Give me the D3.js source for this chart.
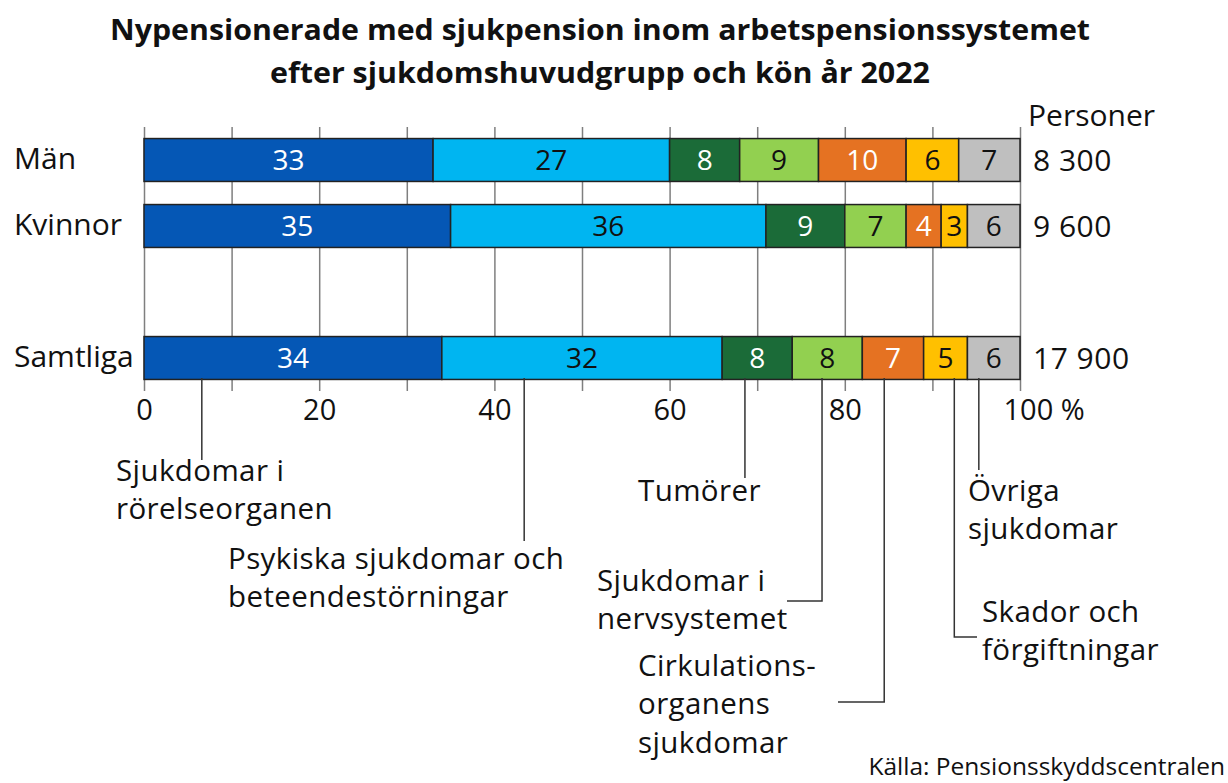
<!DOCTYPE html>
<html>
<head>
<meta charset="utf-8">
<script src="https://cdn.jsdelivr.net/npm/d3@7"></script>
<style>
  body { margin: 0; background: #fff; }
  text { font-family: "Open Sans", Lato, sans-serif; fill: #111; }
</style>
</head>
<body>
<svg id="chart" width="1228" height="783"></svg>
<script>
// data
var rows = ["Män", "Kvinnor", "Samtliga"];
var persons = ["8 300", "9 600", "17 900"];
var groups = ["Sjukdomar i rörelseorganen", "Psykiska sjukdomar och beteendestörningar", "Tumörer",
  "Sjukdomar i nervsystemet", "Cirkulationsorganens sjukdomar", "Skador och förgiftningar", "Övriga sjukdomar"];
var man = [33, 27, 8, 9, 10, 6, 7];
var kvinnor = [35, 36, 9, 7, 4, 3, 6];
var samtliga = [34, 32, 8, 8, 7, 5, 6];
var xTicks = [0, 20, 40, 60, 80, 100];
// where each leader line leaves the Samtliga bar (in %)
var leaderAt = [6.6, 43.4, 68.6, 77.4, 84.5, 92.5, 95.3];

var colors = ["#0557b5", "#00b5f1", "#1b6b38", "#92d050", "#e57222", "#ffc000", "#bfbfbf"];
var whiteText = [true, false, true, false, true, false, false];

var svg = d3.select("#chart");

var x = d3.scaleLinear().domain([0, 100]).range([144, 1020]);
var y = d3.scaleBand().domain(["Män", "Kvinnor", "gap", "Samtliga"])
  .range([127, 391]).paddingInner(0.35).paddingOuter(0.175);

// title
svg.append("text").attr("x", 600).attr("y", 40).attr("text-anchor", "middle")
  .style("font-weight", "bold").style("font-size", "29px")
  .attr("textLength", 980).attr("lengthAdjust", "spacingAndGlyphs")
  .text("Nypensionerade med sjukpension inom arbetspensionssystemet");
svg.append("text").attr("x", 600).attr("y", 83).attr("text-anchor", "middle")
  .style("font-weight", "bold").style("font-size", "29px")
  .attr("textLength", 660).attr("lengthAdjust", "spacingAndGlyphs")
  .text("efter sjukdomshuvudgrupp och kön år 2022");

// grid + axis
var axis = d3.axisBottom(x).tickValues(d3.range(0, 101, 10))
  .tickSize(-(391 - 127)).tickPadding(8)
  .tickFormat(function(d) { return xTicks.indexOf(d) >= 0 ? d : ""; });
var gAxis = svg.append("g").attr("transform", "translate(0,391)").call(axis);
gAxis.select(".domain").remove();
gAxis.selectAll("line").attr("stroke", "#7f7f7f").attr("stroke-width", 1.5);
gAxis.selectAll("text").style("font-size", "29px").attr("fill", "#111").attr("dy", "0.72em");
gAxis.selectAll(".tick").filter(function(d) { return d === 100; }).select("text")
  .attr("text-anchor", "start").attr("dx", "-17").text("100 %");

// bars
var data = [man, kvinnor, samtliga];
data.forEach(function(vals, r) {
  var stack = [];
  var acc = 0;
  vals.forEach(function(v, i) { stack.push({ i: i, v: v, x0: acc, x1: acc + v }); acc += v; });
  var g = svg.append("g");
  var by = y(rows[r]), bh = y.bandwidth();
  g.selectAll("rect").data(stack).enter().append("rect")
    .attr("x", function(d) { return x(d.x0); })
    .attr("width", function(d) { return x(d.x1) - x(d.x0); })
    .attr("y", by).attr("height", bh)
    .attr("fill", function(d) { return colors[d.i]; })
    .attr("stroke", "#222").attr("stroke-width", 1.5);
  g.selectAll("text").data(stack).enter().append("text")
    .attr("x", function(d) { return (x(d.x0) + x(d.x1)) / 2; })
    .attr("y", by + bh / 2).attr("dy", "0.36em")
    .attr("text-anchor", "middle").style("font-size", "28px")
    .style("fill", function(d) { return whiteText[d.i] ? "#fff" : "#111"; })
    .text(function(d) { return d.v; });

  svg.append("text").attr("x", 14).attr("y", by + bh / 2).attr("dy", "0.3em")
    .style("font-size", "30px").text(rows[r]);
  svg.append("text").attr("x", 1033).attr("y", by + bh / 2).attr("dy", "0.36em")
    .style("font-size", "30px").style("letter-spacing", "0.5px").text(persons[r]);
});

svg.append("text").attr("x", 1028).attr("y", 126).style("font-size", "30px").text("Personer");

// legend labels with leader lines (layout)
var legendLayout = [
  { lines: ["Sjukdomar i", "rörelseorganen"], tx: 116, ty: 481, end: 460, hook: null },
  { lines: ["Psykiska sjukdomar och", "beteendestörningar"], tx: 228, ty: 569, end: 541, hook: null },
  { lines: ["Tumörer"], tx: 638, ty: 501, end: 478, hook: null },
  { lines: ["Sjukdomar i", "nervsystemet"], tx: 597, ty: 591, end: 601, hook: 787 },
  { lines: ["Cirkulations-", "organens", "sjukdomar"], tx: 638, ty: 676, end: 702, hook: 838 },
  { lines: ["Skador och", "förgiftningar"], tx: 982, ty: 622, end: 637, hook: 977 },
  { lines: ["Övriga", "sjukdomar"], tx: 968, ty: 501, end: 470, hook: null }
];

legendLayout.forEach(function(L, i) {
  var lx = x(leaderAt[i]);
  var pts = [[lx, 378], [lx, L.end]];
  if (L.hook !== null) pts.push([L.hook, L.end]);
  svg.append("path").attr("d", d3.line()(pts))
    .attr("fill", "none").attr("stroke", "#333").attr("stroke-width", 1.5);
  var t = svg.append("text").attr("x", L.tx).attr("y", L.ty)
    .style("font-size", "29.5px").style("letter-spacing", "0.4px");
  L.lines.forEach(function(s, k) {
    t.append("tspan").attr("x", L.tx).attr("dy", k === 0 ? 0 : "1.3em").text(s);
  });
});

svg.append("text").attr("x", 1225).attr("y", 775).attr("text-anchor", "end")
  .style("font-size", "24.5px").text("Källa: Pensionsskyddscentralen");
</script>
</body>
</html>
